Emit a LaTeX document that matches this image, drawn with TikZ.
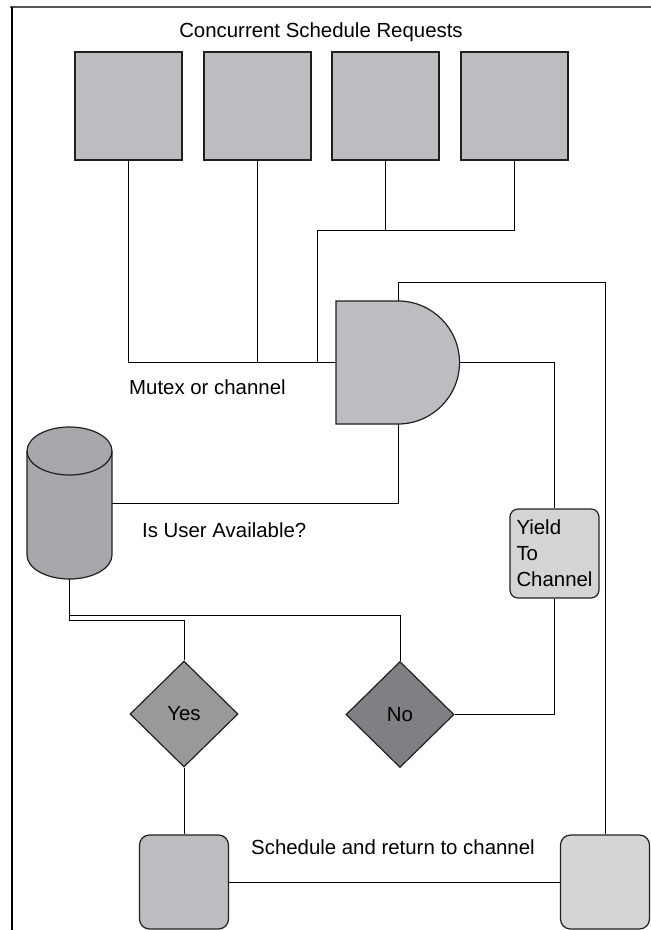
\documentclass[tikz,border=0pt]{standalone}
\usepackage{fontspec}
\setmainfont{Liberation Sans}
\usetikzlibrary{shapes.geometric}
\definecolor{boxgray}{HTML}{BCBDC0}
\definecolor{cylgray}{HTML}{A7A8AB}
\definecolor{yesgray}{HTML}{98999B}
\definecolor{nogray}{HTML}{7F8083}
\definecolor{lightgray}{HTML}{D3D4D6}
\definecolor{edge}{HTML}{231F20}
\definecolor{framegray}{HTML}{555555}
\tikzset{
  shapeedge/.style={draw=edge, line width=1.2pt},
  reqbox/.style={shapeedge, fill=boxgray, minimum width=107pt, minimum height=108pt, inner sep=0pt},
  roundbox/.style={shapeedge, rounded corners=10pt, minimum width=89pt, minimum height=94pt, inner sep=0pt},
  decision/.style={shapeedge, diamond, aspect=1, inner sep=0pt, minimum width=108pt, minimum height=106pt},
  conn/.style={draw=black, line width=1pt},
  lbl/.style={font=\fontsize{20.4}{24}\selectfont, inner sep=0pt},
}
\begin{document}
\begin{tikzpicture}[x=1pt, y=-1pt]
\useasboundingbox (0,0) rectangle (651,930);
% frame
\draw[framegray, line width=2.2pt] (10,7) -- (651,7);
\draw[black, line width=1.2pt] (12,7) -- (12,930);

% title
\node[lbl] (title) at (321,32) {Concurrent Schedule Requests};

% request boxes
\node[reqbox] (r1) at (128.5,106) {};
\node[reqbox] (r2) at (257.5,106) {};
\node[reqbox] (r3) at (385.5,106) {};
\node[reqbox] (r4) at (514.5,106) {};

% AND gate (mutex)
\node[inner sep=0pt, minimum width=124pt, minimum height=123pt] (gate) at (398,362.5) {};
\draw[shapeedge, fill=boxgray] (336,301) -- (398,301)
  arc[start angle=90, end angle=-90, radius=61.5pt] -- (336,424) -- cycle;

% cylinder
\node[inner sep=0pt, minimum width=85pt, minimum height=152pt] (cyl) at (69.5,503) {};
\draw[shapeedge, fill=cylgray] (27,451) -- (27,555)
  arc[start angle=180, end angle=360, x radius=42.5pt, y radius=24pt]
  -- (112,451)
  arc[start angle=0, end angle=180, x radius=42.5pt, y radius=24pt] -- cycle;
\draw[shapeedge] (27,451) arc[start angle=180, end angle=360, x radius=42.5pt, y radius=24pt];

% yield box
\node[roundbox, fill=lightgray, minimum height=89pt, rounded corners=8pt, align=left,
      font=\fontsize{20.4}{26}\selectfont] (yield) at (554.5,553.5) {Yield\\To\\Channel};

% decisions
\node[decision, fill=yesgray, lbl] (yes) at (184,714) {Yes};
\node[decision, fill=nogray, lbl] (no) at (400,714.5) {No};

% bottom boxes
\node[roundbox, fill=boxgray] (bl) at (184,882) {};
\node[roundbox, fill=lightgray] (br) at (605,882) {};

% labels
\node[lbl, anchor=west] (mutex) at (129,387) {Mutex or channel};
\node[lbl, anchor=west] (avail) at (142,530) {Is User Available?};
\node[lbl, anchor=west] (sched) at (251,847) {Schedule and return to channel};

% connectors
\coordinate (j) at (317,230);
\coordinate (loop) at (398,282);
\coordinate (split) at (69.5,615);
\coordinate (splitb) at (69.5,620);
\draw[conn] (r1.south) |- (gate.west);
\draw[conn] (r2.south) -- (r2.south |- gate.west);
\draw[conn] (r4.south) |- (j) -- (j |- gate.west);
\draw[conn] (r3.south) -- (r3.south |- j);
\draw[conn] (gate.east) -| (yield.north);
\draw[conn] (gate.north) -- (loop) -| (br.north);
\draw[conn] (gate.south) |- (cyl.east);
\draw[conn] (cyl.south) -- (splitb) -| (yes.north);
\draw[conn] (split) -| (no.north);
\draw[conn] (yield.south) |- (no.east);
\draw[conn] (yes.south) -- (bl.north);
\draw[conn] (bl.east) -- (br.west);
\end{tikzpicture}
\end{document}
